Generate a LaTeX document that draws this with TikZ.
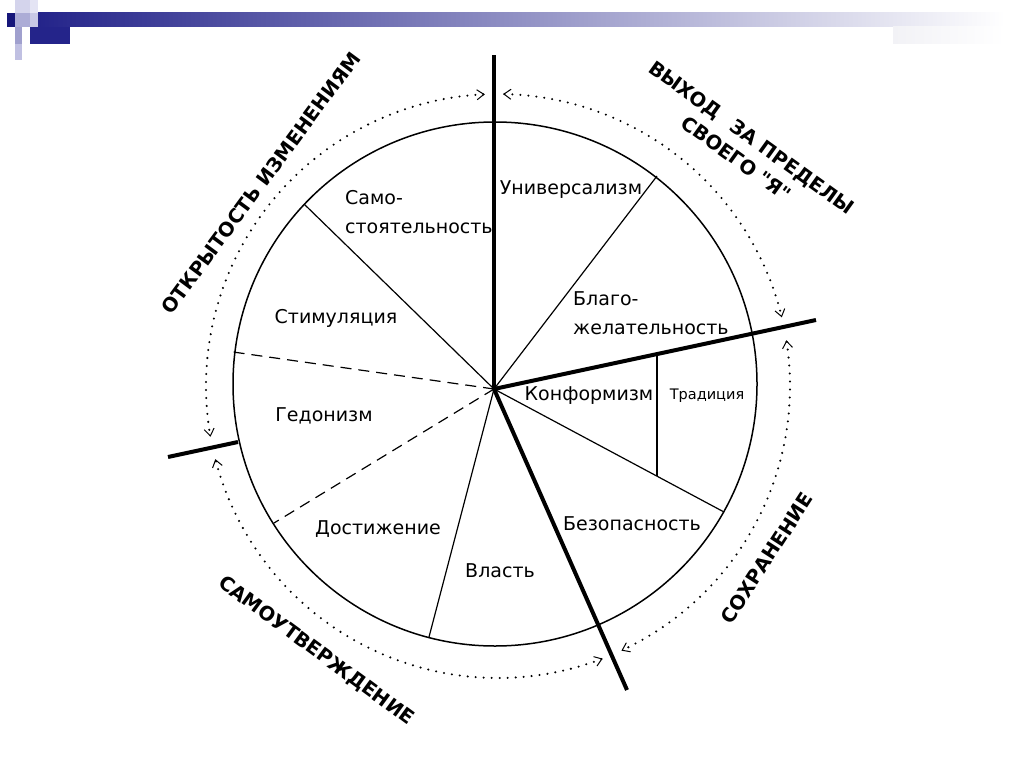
\documentclass[tikz,border=0pt]{standalone}
\usepackage{fontspec}
\setmainfont{DejaVu Sans}[Ligatures=TeXOff]
\usetikzlibrary{arrows.meta}
\definecolor{navy}{RGB}{22,22,122}
\definecolor{navyb}{RGB}{36,36,138}
\definecolor{lavA}{RGB}{212,212,236}
\definecolor{lavB}{RGB}{228,228,244}
\definecolor{lavC}{RGB}{172,172,214}
\definecolor{lavD}{RGB}{200,200,230}
\definecolor{lavE}{RGB}{160,160,206}
\definecolor{lavF}{RGB}{192,192,226}
\definecolor{patch}{RGB}{242,242,246}
\begin{document}
\begin{tikzpicture}[x=1pt,y=-1pt,
  thinline/.style={line width=1.2pt},
  rim/.style={line width=1.5pt},
  thickline/.style={line width=4pt},
  dashline/.style={line width=1.2pt, dash pattern=on 11pt off 7pt},
  dotarc/.style={line width=2.3pt, line cap=round, dash pattern=on 0pt off 8pt,
     {Straight Barb[length=7pt,width=10pt,line width=1pt]}-{Straight Barb[length=7pt,width=10pt,line width=1pt]}},
  lbl/.style={font=\fontsize{19}{29}\selectfont, inner sep=0pt},
  smalllbl/.style={font=\fontsize{14.5}{18}\selectfont, inner sep=0pt},
  region/.style={font=\fontsize{19.5}{26}\bfseries, inner sep=0pt, align=center}
]
\useasboundingbox (0,0) rectangle (1024,767);
% header decoration
\fill[lavA] (15,0) rectangle (30,13);
\fill[lavB] (30,0) rectangle (38,13);
\fill[navy] (7,13) rectangle (15,27);
\fill[lavC] (15,13) rectangle (30,27);
\fill[lavD] (30,13) rectangle (38,27);
\fill[lavE] (15,27) rectangle (22,44);
\fill[lavF] (15,44) rectangle (22,60);
\shade[left color=navyb, right color=white] (38,13) rectangle (1005,27);
\fill[navyb] (30,27) rectangle (70,44);
\shade[left color=patch, right color=white] (893,27) rectangle (1005,44);

% geometry
\coordinate (c) at (495,384);
\coordinate (hub) at (494,389);
\node[draw, rim, circle, minimum size=524pt, inner sep=0pt] (wheel) at (c) {};

\coordinate (pUB) at (657,176);
\coordinate (pSS) at (304,204);
\coordinate (pSH) at (233,352);
\coordinate (pHA) at (274,523);
\coordinate (pAP) at (429,637);
\coordinate (pCS) at (724,512);
\coordinate (tTop) at (657,354);
\coordinate (tBot) at (657,476);
\coordinate (kTop) at (494,55);
\coordinate (kRight) at (816,320);
\coordinate (kDown) at (627,690);
\coordinate (kLeftA) at (168,457);
\coordinate (kLeftB) at (238,442);

\draw[thinline] (hub) -- (pUB);
\draw[thinline] (hub) -- (pSS);
\draw[dashline] (hub) -- (pSH);
\draw[dashline] (hub) -- (pHA);
\draw[thinline] (hub) -- (pAP);
\draw[thinline] (hub) -- (pCS);
\draw[thinline] (tTop) -- (tBot);

\draw[thickline] (hub) -- (kTop);
\draw[thickline] (hub) -- (kRight);
\draw[thickline] (hub) -- (kDown);
\draw[thickline] (kLeftA) -- (kLeftB);

% dotted arcs with arrows (center 498,386; r 292)
\draw[dotarc, domain=92.6:190.0, samples=80] plot ({498+292*cos(\x)},{386-292*sin(\x)});
\draw[dotarc, domain=89.0:13.6, samples=80] plot ({498+292*cos(\x)},{386-292*sin(\x)});
\draw[dotarc, domain=9.0:-65.0, samples=80] plot ({498+292*cos(\x)},{386-292*sin(\x)});
\draw[dotarc, domain=-69.0:-165.5, samples=80] plot ({498+292*cos(\x)},{386-292*sin(\x)});

% sector labels
\node[lbl] (univ) at (571,190) {Универсализм};
\node[lbl, align=left, anchor=west] (samo) at (345,212) {Само-\\стоятельность};
\node[lbl, align=left, anchor=west] (blago) at (573,313) {Благо-\\желательность};
\node[lbl] (stim) at (336,318) {Стимуляция};
\node[lbl] (hed) at (324,416) {Гедонизм};
\node[lbl] (dost) at (378,529) {Достижение};
\node[lbl] (vlast) at (500,571) {Власть};
\node[lbl] (bez) at (632,524) {Безопасность};
\node[lbl] (konf) at (589,396) {Конформизм};
\node[smalllbl] (trad) at (707,396) {Традиция};

% region labels
\node[region, rotate=53.5] (open) at (261,183) {ОТКРЫТОСТЬ ИЗМЕНЕНИЯМ};
\node[region, rotate=-35.7] (self) at (744,148) {ВЫХОД\hspace{0.5em} ЗА ПРЕДЕЛЫ\\СВОЕГО "Я"};
\node[region, rotate=57] (cons) at (767,558) {СОХРАНЕНИЕ};
\node[region, rotate=-36.3] (enh) at (316,651) {САМОУТВЕРЖДЕНИЕ};
\end{tikzpicture}
\end{document}
